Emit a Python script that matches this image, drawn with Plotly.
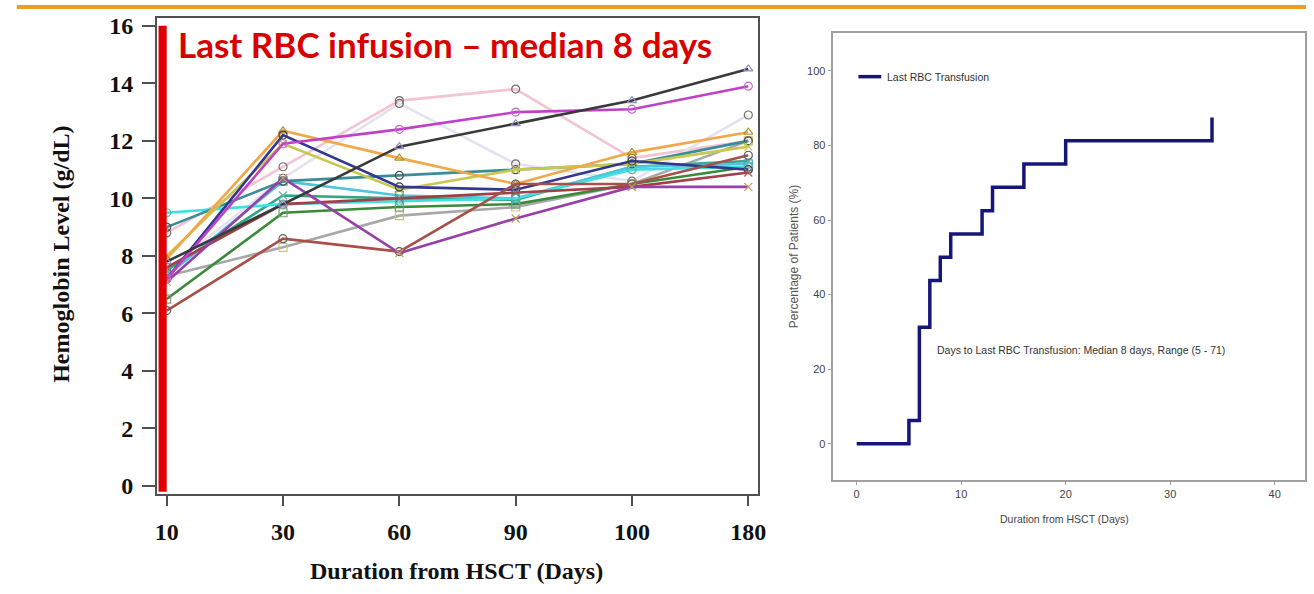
import plotly.graph_objects as go

# ---------------- data: left panel (hemoglobin by visit) ----------------
visits = ["10", "30", "60", "90", "100", "180"]

hb_black = [7.8, 9.8, 11.8, 12.6, 13.4, 14.5]
hb_magenta = [7.2, 11.9, 12.4, 13.0, 13.1, 13.9]
hb_pink = [8.8, 11.1, 13.4, 13.8, 11.4, 12.0]
hb_lavender = [7.5, 10.7, 13.3, 11.2, 10.6, 12.9]
hb_orange = [7.9, 12.35, 11.4, 10.5, 11.6, 12.3]
hb_olive = [8.0, 11.9, 10.3, 11.0, 11.2, 11.8]
hb_navy = [7.2, 12.2, 10.4, 10.3, 11.3, 11.0]
hb_teal = [9.0, 10.6, 10.8, 11.0, 11.2, 12.0]
hb_cyan = [9.5, 9.8, 9.9, 10.0, 11.0, 11.1]
hb_lightblue = [7.3, 10.6, 10.1, 10.0, 11.1, 11.2]
hb_maroon = [7.6, 9.8, 10.0, 10.2, 10.4, 10.9]
hb_brown = [6.1, 8.6, 8.15, 10.5, 10.5, 11.5]
hb_purple = [7.1, 10.7, 8.1, 9.3, 10.4, 10.4]
hb_green = [6.5, 9.5, 9.7, 9.8, 10.5, 11.1]
hb_gray = [7.3, 8.3, 9.4, 9.7, 10.5, 12.0]
hb_seagreen = [7.5, 10.1, 10.0, 9.95, 11.1, 11.3]

y_ticks_left = [0, 2, 4, 6, 8, 10, 12, 14, 16]

# ---------------- data: right panel (cumulative incidence) ----------------
km_days = [0, 5, 6, 7, 8, 9, 12, 13, 16, 20, 34]
km_pct = [0, 6.25, 31.25, 43.75, 50, 56.25, 62.5, 68.75, 75, 81.25, 87.5]
x_ticks_right = [0, 10, 20, 30, 40]
y_ticks_right = [0, 20, 40, 60, 80, 100]

W, H = 1314, 594

def px_x(p):
    return p / W

def px_y(p):
    return 1 - p / H

series = [
    (hb_pink, "#f2c4d4", "circle-open", "#707070"),
    (hb_lavender, "#e2e2f0", "circle-open", "#707070"),
    (hb_gray, "#a8a8a8", "square-open", "#c8c870"),
    (hb_green, "#3a8a3a", "square-open", "#7a9a7a"),
    (hb_seagreen, "#30a888", "x-thin-open", "#60b8a0"),
    (hb_lightblue, "#50c4dc", "square-open", "#50a0c0"),
    (hb_cyan, "#40e0e0", "circle-open", "#40c0c0"),
    (hb_teal, "#3a8c96", "circle-open", "#505050"),
    (hb_olive, "#c8c850", "x-thin-open", "#c8c850"),
    (hb_orange, "#f0a848", "triangle-up-open", "#b09030"),
    (hb_navy, "#303890", "circle-open", "#404040"),
    (hb_maroon, "#a04048", "x-thin-open", "#a06060"),
    (hb_brown, "#a85048", "circle-open", "#606060"),
    (hb_purple, "#9840a8", "x-thin-open", "#c0a060"),
    (hb_magenta, "#c040c8", "circle-open", "#c070c8"),
    (hb_black, "#3a3a3a", "triangle-up-open", "#9090c0"),
]

fig = go.Figure()

for vals, col, sym, mcol in series:
    fig.add_trace(go.Scatter(
        x=visits, y=vals, mode="lines+markers",
        line=dict(color=col, width=2.6),
        marker=dict(symbol=sym, size=8, color=mcol, line=dict(width=1.2, color=mcol)),
        xaxis="x", yaxis="y", showlegend=False,
    ))

fig.add_trace(go.Scatter(
    x=km_days, y=km_pct, mode="lines", line_shape="hv",
    line=dict(color="#16167a", width=3.5),
    xaxis="x2", yaxis="y2", showlegend=False,
))

serif = "Liberation Serif, Times New Roman, serif"
sans = "Liberation Sans, Arial, sans-serif"

fig.update_layout(
    width=W, height=H,
    margin=dict(l=0, r=0, t=0, b=0),
    paper_bgcolor="white", plot_bgcolor="white",
    xaxis=dict(
        domain=[px_x(156), px_x(762)], anchor="y",
        type="category", range=[-0.085, 5.085],
        showgrid=False, zeroline=False,
        showline=True, linecolor="#505050", linewidth=1.5, mirror=True,
        ticks="outside", ticklen=10, tickcolor="#505050", tickwidth=1.5,
        tickfont=dict(family=serif, size=24, color="#111", weight="bold"),
        ticklabelstandoff=6,
    ),
    yaxis=dict(
        domain=[px_y(498), px_y(13)], anchor="x",
        range=[-0.27, 16.28], tickvals=y_ticks_left,
        showgrid=False, zeroline=False,
        showline=True, linecolor="#505050", linewidth=1.5, mirror=True,
        ticks="outside", ticklen=13, tickcolor="#505050", tickwidth=1.5,
        tickfont=dict(family=serif, size=24, color="#111", weight="bold"),
        ticklabelstandoff=4,
    ),
    xaxis2=dict(
        domain=[px_x(837), px_x(1313)], anchor="y2",
        range=[-2.3, 42.9], tickvals=x_ticks_right,
        showgrid=False, zeroline=False,
        showline=True, linecolor="#a0a0a0", linewidth=2, mirror=True,
        ticks="outside", ticklen=3, tickcolor="#a0a0a0",
        tickfont=dict(family=sans, size=11, color="#444"),
    ),
    yaxis2=dict(
        domain=[px_y(484), px_y(29)], anchor="x2",
        range=[-9.7, 110], tickvals=y_ticks_right,
        showgrid=False, zeroline=False,
        showline=True, linecolor="#a0a0a0", linewidth=2, mirror=True,
        ticks="outside", ticklen=3, tickcolor="#a0a0a0",
        tickfont=dict(family=sans, size=11, color="#444"),
        ticklabelstandoff=0,
    ),
)

shapes = [
    # orange top band
    dict(type="rect", xref="paper", yref="paper", x0=px_x(15), x1=1, y0=px_y(4), y1=1,
         fillcolor="#f39a26", line=dict(width=0), layer="above"),
    # red marker at day 10
    dict(type="rect", xref="x", yref="y", x0=-0.07, x1=0.0, y0=-0.2, y1=16,
         fillcolor="#e00000", line=dict(width=0), layer="above"),
    # legend sample on right panel
    dict(type="line", xref="paper", yref="paper", x0=px_x(863), x1=px_x(886),
         y0=px_y(73), y1=px_y(73), line=dict(color="#16167a", width=3.5)),
]
fig.update_layout(shapes=shapes)

annotations = [
    dict(text="<b>Last RBC infusion – median 8 days</b>", xref="paper", yref="paper",
         x=px_x(175), y=px_y(40), xanchor="left", yanchor="middle", showarrow=False,
         font=dict(family="Lato, Carlito, Open Sans, sans-serif", size=35, color="#d80000")),
    dict(text="<b>Duration from HSCT (Days)</b>", xref="paper", yref="paper",
         x=px_x(458), y=px_y(577), xanchor="center", yanchor="middle", showarrow=False,
         font=dict(family=serif, size=24, color="#111")),
    dict(text="<b>Hemoglobin Level (g/dL)</b>", xref="paper", yref="paper",
         x=px_x(60), y=px_y(254), xanchor="center", yanchor="middle", showarrow=False,
         textangle=-90, font=dict(family=serif, size=24, color="#111")),
    dict(text="Last RBC Transfusion", xref="paper", yref="paper",
         x=px_x(890), y=px_y(73), xanchor="left", yanchor="middle", showarrow=False,
         font=dict(family=sans, size=10.5, color="#333")),
    dict(text="Days to Last RBC Transfusion: Median 8 days, Range (5 - 71)",
         xref="paper", yref="paper",
         x=px_x(940), y=px_y(351), xanchor="left", yanchor="middle", showarrow=False,
         font=dict(family=sans, size=10.5, color="#333")),
    dict(text="Duration from HSCT (Days)", xref="paper", yref="paper",
         x=px_x(1071), y=px_y(524), xanchor="center", yanchor="middle", showarrow=False,
         font=dict(family=sans, size=10.5, color="#444")),
    dict(text="Percentage of Patients (%)", xref="paper", yref="paper",
         x=px_x(798), y=px_y(256), xanchor="center", yanchor="middle", showarrow=False,
         textangle=-90, font=dict(family=sans, size=12, color="#555")),
]
fig.update_layout(annotations=annotations)

fig.write_html("out.html")
